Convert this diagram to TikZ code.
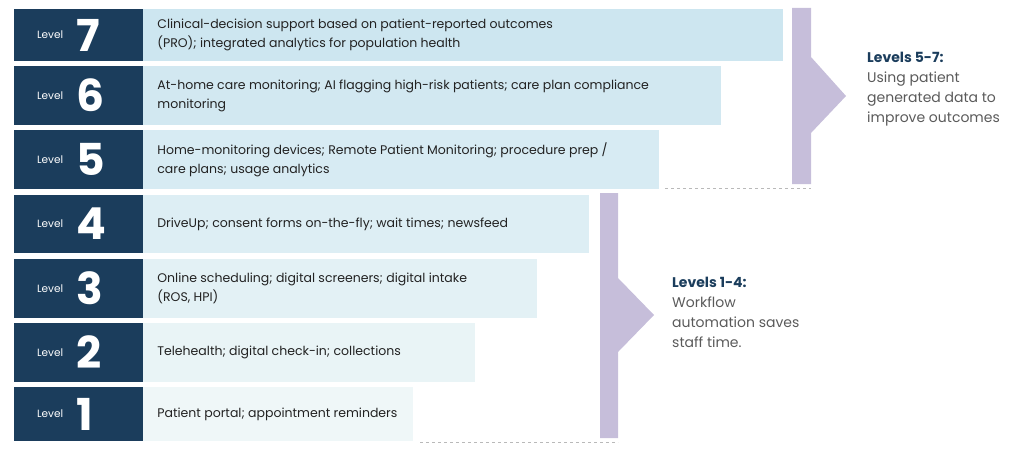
\documentclass[tikz,border=0pt]{standalone}
\usepackage{fontspec}
\setmainfont{Poppins}
\usetikzlibrary{positioning}
\definecolor{navy}{HTML}{1B3D5C}
\definecolor{lbseven}{HTML}{CDE6F0}
\definecolor{lbsix}{HTML}{D2E8F1}
\definecolor{lbfive}{HTML}{D7EBF3}
\definecolor{lbfour}{HTML}{DDEEF4}
\definecolor{lbthree}{HTML}{E3F1F5}
\definecolor{lbtwo}{HTML}{E9F4F6}
\definecolor{lbone}{HTML}{EFF7F8}
\definecolor{lilac}{HTML}{C6BEDA}
\definecolor{ink}{HTML}{222222}
\definecolor{graytext}{HTML}{5A5A5A}

\begin{document}
\begin{tikzpicture}[
    x=1pt,
    y=-1pt,
    lvbox/.style={fill=navy, minimum width=129pt, inner sep=0pt},
    lvword/.style={text=white, font=\fontsize{10.5}{10.5}\selectfont, inner sep=0pt, anchor=west},
    lvnum/.style={text=white, font=\fontsize{44}{44}\selectfont\bfseries, inner sep=0pt},
    descbox/.style={inner sep=0pt},
    desc/.style={align=left, inner sep=0pt, text=ink, font=\fontsize{12.5}{19}\selectfont},
    note/.style={anchor=north west, align=left, inner sep=0pt, text=graytext, font=\fontsize{14}{20}\selectfont},
    sep/.style={dashed, draw=gray!55, line width=0.6pt}
]
\useasboundingbox (0,0) rectangle (1024,452);

% level boxes
\node[lvbox, minimum height=52pt] (lv7) at (78.5,35) {};
\node[lvbox, minimum height=59pt] (lv6) at (78.5,95.5) {};
\node[lvbox, minimum height=59pt] (lv5) at (78.5,159.5) {};
\node[lvbox, minimum height=58pt] (lv4) at (78.5,224) {};
\node[lvbox, minimum height=59pt] (lv3) at (78.5,288.5) {};
\node[lvbox, minimum height=59pt] (lv2) at (78.5,352.5) {};
\node[lvbox, minimum height=54pt] (lv1) at (78.5,414) {};

\node[lvword] (w7) at (37,35) {Level};
\node[lvnum, right=13pt of w7] (n7) {7};
\node[lvword] (w6) at (37,95.5) {Level};
\node[lvnum, right=13pt of w6] (n6) {6};
\node[lvword] (w5) at (37,159.5) {Level};
\node[lvnum, right=13pt of w5] (n5) {5};
\node[lvword] (w4) at (37,224) {Level};
\node[lvnum, right=13pt of w4] (n4) {4};
\node[lvword] (w3) at (37,288.5) {Level};
\node[lvnum, right=13pt of w3] (n3) {3};
\node[lvword] (w2) at (37,352.5) {Level};
\node[lvnum, right=13pt of w2] (n2) {2};
\node[lvword] (w1) at (37,414) {Level};
\node[lvnum, right=13pt of w1] (n1) {1};

% description bars
\node[descbox, fill=lbseven, minimum width=640pt, minimum height=52pt, right=0pt of lv7] (d7) {};
\node[descbox, fill=lbsix, minimum width=578pt, minimum height=59pt, right=0pt of lv6] (d6) {};
\node[descbox, fill=lbfive, minimum width=516pt, minimum height=59pt, right=0pt of lv5] (d5) {};
\node[descbox, fill=lbfour, minimum width=446pt, minimum height=58pt, right=0pt of lv4] (d4) {};
\node[descbox, fill=lbthree, minimum width=394pt, minimum height=59pt, right=0pt of lv3] (d3) {};
\node[descbox, fill=lbtwo, minimum width=332pt, minimum height=59pt, right=0pt of lv2] (d2) {};
\node[descbox, fill=lbone, minimum width=270pt, minimum height=54pt, right=0pt of lv1] (d1) {};

\node[desc, right=14pt of d7.west] (t7) {Clinical-decision support based on patient-reported outcomes\\(PRO); integrated analytics for population health};
\node[desc, right=14pt of d6.west] (t6) {At-home care monitoring; AI flagging high-risk patients; care plan compliance\\monitoring};
\node[desc, right=14pt of d5.west] (t5) {Home-monitoring devices; Remote Patient Monitoring; procedure prep /\\care plans; usage analytics};
\node[desc, right=14pt of d4.west] (t4) {DriveUp; consent forms on-the-fly; wait times; newsfeed};
\node[desc, right=14pt of d3.west] (t3) {Online scheduling; digital screeners; digital intake\\(ROS, HPI)};
\node[desc, right=14pt of d2.west] (t2) {Telehealth; digital check-in; collections};
\node[desc, right=14pt of d1.west] (t1) {Patient portal; appointment reminders};

% brackets
\fill[lilac] (792,8) -- (811,8) -- (811,57) -- (846,96) -- (811,133) -- (811,184) -- (792,184) -- cycle;
\fill[lilac] (600,193) -- (618,193) -- (618,278) -- (654,315) -- (618,352) -- (618,438) -- (600,438) -- cycle;
\draw[sep] (665,188) -- (811,188);
\draw[sep] (420,442) -- (618,442);

% notes
\node[note] (upper) at (867,52) {\textcolor{navy}{\bfseries Levels 5-7:}\\Using patient\\generated data to\\improve outcomes};
\node[note] (lower) at (672,277) {\textcolor{navy}{\bfseries Levels 1-4:}\\Workflow\\automation saves\\staff time.};
\end{tikzpicture}
\end{document}
